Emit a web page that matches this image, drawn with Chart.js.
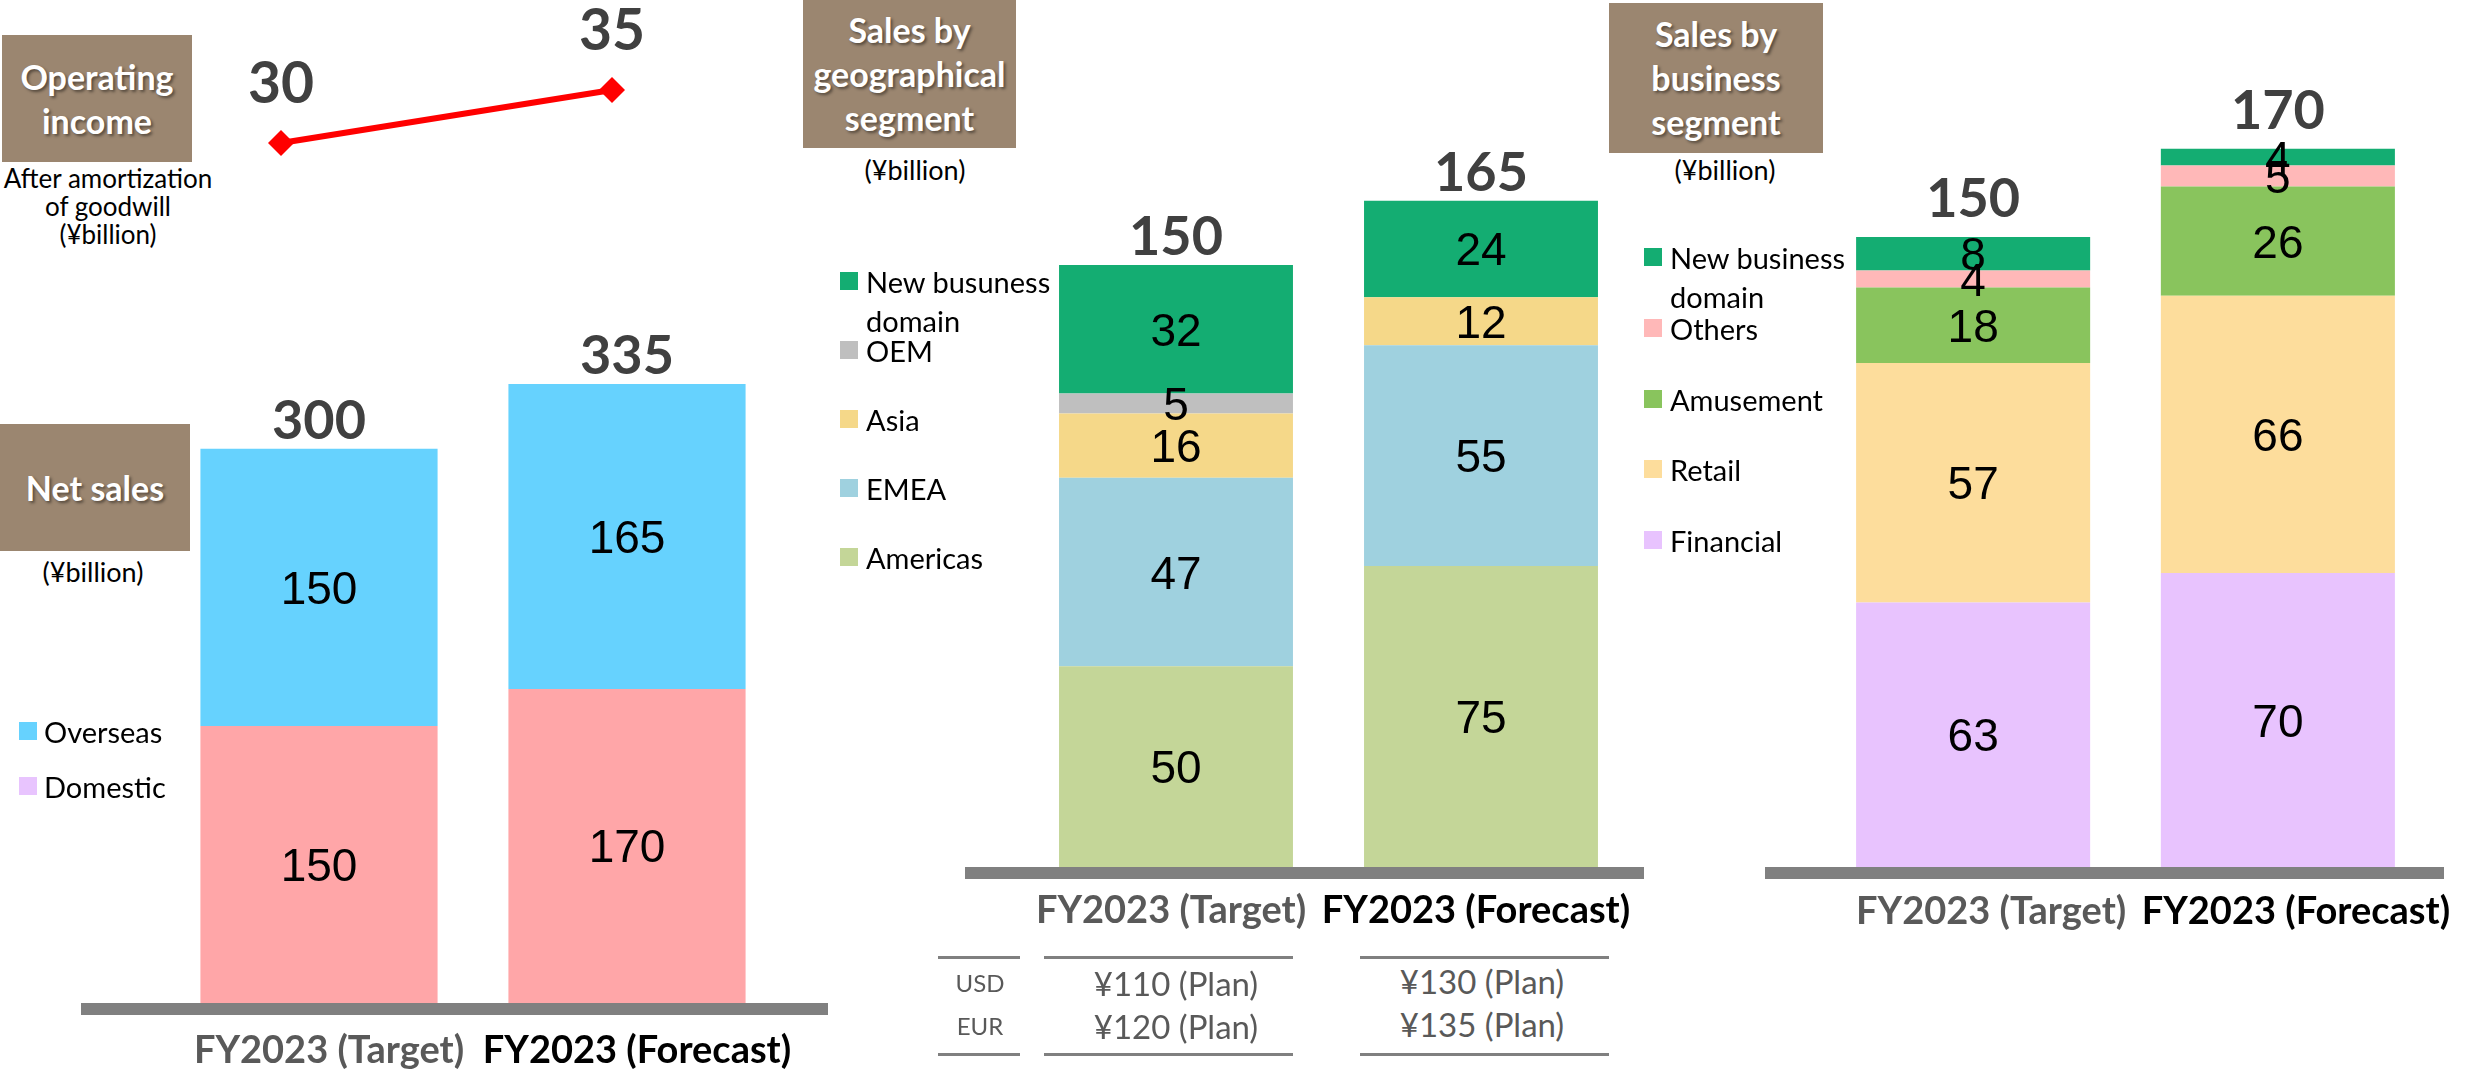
<!DOCTYPE html>
<html>
<head>
<meta charset="utf-8">
<title>FY2023 outlook</title>
<script src="https://cdn.jsdelivr.net/npm/chart.js@4.4.1/dist/chart.umd.min.js"></script>
<style>
  html, body { margin: 0; padding: 0; background: #fff; }
  #page { position: relative; width: 2481px; height: 1071px; overflow: hidden; font-family: Lato, "Open Sans", sans-serif; }
  .box { position: absolute; background: #9B8670; color: #fff; font-weight: 700; font-size: 34px; line-height: 44px;
         display: flex; align-items: center; justify-content: center; text-align: center;
         text-shadow: 2px 2px 3px rgba(0,0,0,0.45); }
  .note { position: absolute; color: #000; text-align: center; font-size: 26px; line-height: 28px; }
  .unit { font-size: 27px; }
  canvas.cv { position: absolute; }
  .li { position: absolute; display: flex; align-items: flex-start; font-size: 29px; color: #000; }
  .sw { width: 18px; height: 18px; flex: none; }
  .fxline { position: absolute; height: 3px; background: #808080; }
  .fx { position: absolute; color: #595959; text-align: center; white-space: nowrap; }
</style>
</head>
<body>
<div id="page">
  <div class="box" style="left:2px;top:35px;width:190px;height:127px;">Operating<br>income</div>
  <div class="note" style="left:-4px;top:164px;width:224px;">After amortization<br>of goodwill<br>(¥billion)</div>

  <div class="box" style="left:0px;top:424px;width:190px;height:127px;">Net sales</div>
  <div class="note unit" style="left:13px;top:558px;width:160px;">(¥billion)</div>

  <div class="box" style="left:803px;top:0px;width:213px;height:148px;">Sales by<br>geographical<br>segment</div>
  <div class="note unit" style="left:835px;top:156px;width:160px;">(¥billion)</div>

  <div class="box" style="left:1609px;top:3px;width:214px;height:150px;">Sales by<br>business<br>segment</div>
  <div class="note unit" style="left:1645px;top:156px;width:160px;">(¥billion)</div>

  <canvas class="cv" id="opChart" width="600" height="300" style="left:150px;top:0px;"></canvas>
  <canvas class="cv" id="netChart" width="850" height="871" style="left:0px;top:200px;"></canvas>
  <canvas class="cv" id="geoChart" width="800" height="850" style="left:900px;top:100px;"></canvas>
  <canvas class="cv" id="bizChart" width="781" height="900" style="left:1700px;top:50px;"></canvas>

  <div id="legends"></div>
  <div id="fxTable"></div>
</div>

<script>
// ---- data (¥billion) ----
const categories = ['FY2023 (Target)', 'FY2023 (Forecast)'];

const operatingIncome = [30, 35];

const netDomestic = [150, 170];
const netOverseas = [150, 165];
const netTotals = [300, 335];

const geoAmericas = [50, 75];
const geoEMEA = [47, 55];
const geoAsia = [16, 12];
const geoOEM = [5, 0];
const geoNewDomain = [32, 24];
const geoTotals = [150, 165];

const bizFinancial = [63, 70];
const bizRetail = [57, 66];
const bizAmusement = [18, 26];
const bizOthers = [4, 5];
const bizNewDomain = [8, 4];
const bizTotals = [150, 170];

const fxCurrencies = ['USD', 'EUR'];
const fxTargetRates = ['¥110 (Plan)', '¥120 (Plan)'];
const fxForecastRates = ['¥130 (Plan)', '¥135 (Plan)'];

// ---- colours ----
const C = {
  overseas: '#66D2FE', domestic: '#FFA6A8', domesticKey: '#E8C4FE',
  newDomain: '#14AD72', oem: '#BFBFBF', asia: '#F5D889', emea: '#9FD1DF', americas: '#C4D698',
  others: '#FFB8B8', amusement: '#89C45D', retail: '#FDDD9C', financial: '#E8C3FE',
  total: '#404040', axis: '#808080'
};

// value labels inside each segment + total above each stack
function stackLabels(totals, gap) {
  return {
    id: 'stackLabels',
    afterDatasetsDraw(chart) {
      const ctx = chart.ctx;
      ctx.save();
      ctx.textAlign = 'center';
      ctx.textBaseline = 'alphabetic';
      ctx.font = '46px "Liberation Sans", Arial, sans-serif';
      ctx.fillStyle = '#000';
      const tops = [];
      chart.data.datasets.forEach((ds, i) => {
        chart.getDatasetMeta(i).data.forEach((bar, j) => {
          const v = ds.data[j];
          if (!v) return;
          const p = bar.getProps(['x', 'y', 'base'], true);
          tops[j] = Math.min(tops[j] === undefined ? Infinity : tops[j], p.y);
          ctx.fillText(String(v), p.x, (p.y + p.base) / 2 + 16.5);
        });
      });
      ctx.font = 'bold 54px Lato, sans-serif';
      ctx.fillStyle = C.total;
      totals.forEach((t, j) => {
        const x = chart.getDatasetMeta(0).data[j].x;
        ctx.fillText(String(t), x, tops[j] - gap);
      });
      ctx.restore();
    }
  };
}

// thick grey category axis under the bars
function baseline(extLeft, extRight) {
  return {
    id: 'baseline',
    afterDraw(chart) {
      const a = chart.chartArea, ctx = chart.ctx;
      ctx.save();
      ctx.fillStyle = C.axis;
      ctx.fillRect(a.left - extLeft, a.bottom, a.right - a.left + extLeft + extRight, 12);
      ctx.restore();
    }
  };
}

function stackedBars(id, datasets, totals, cfg) {
  datasets.forEach(d => { d.categoryPercentage = 1; d.barPercentage = cfg.barPct; d.borderWidth = 0; });
  return new Chart(document.getElementById(id), {
    type: 'bar',
    data: { labels: categories, datasets },
    options: {
      responsive: false, animation: false, devicePixelRatio: 1,
      layout: { padding: { left: cfg.padL, right: cfg.padR, top: cfg.padT, bottom: 0 } },
      plugins: { legend: { display: false }, tooltip: { enabled: false } },
      scales: {
        x: {
          stacked: true,
          grid: { display: false, drawTicks: false },
          border: { display: false },
          ticks: {
            font: { family: 'Lato', weight: 'bold', size: 38 },
            color: c => (c.index === 0 ? '#595959' : '#000000'),
            padding: cfg.tickPad, labelOffset: cfg.labelShift, maxRotation: 0, autoSkip: false
          },
          afterFit: s => { s.height = cfg.axisH; }
        },
        y: { stacked: true, display: false, min: 0, max: cfg.max }
      }
    },
    plugins: [stackLabels(totals, cfg.gap), baseline(cfg.extL, cfg.extR)]
  });
}

// ---- operating income line ----
new Chart(document.getElementById('opChart'), {
  type: 'line',
  data: {
    labels: categories,
    datasets: [{
      data: operatingIncome, borderColor: '#FF0000', borderWidth: 6, tension: 0,
      pointStyle: 'rectRot', pointRadius: 13, pointBackgroundColor: '#FF0000',
      pointBorderColor: '#FF0000', pointBorderWidth: 0, clip: false
    }]
  },
  options: {
    responsive: false, animation: false, devicePixelRatio: 1,
    layout: { padding: { left: 131, right: 138, top: 37, bottom: 51 } },
    plugins: { legend: { display: false }, tooltip: { enabled: false } },
    scales: { x: { display: false }, y: { display: false, min: 20, max: 40 } }
  },
  plugins: [{
    id: 'pointLabels',
    afterDatasetsDraw(chart) {
      const ctx = chart.ctx;
      ctx.save();
      ctx.font = 'bold 57px Lato, sans-serif';
      ctx.fillStyle = C.total;
      ctx.textAlign = 'center';
      ctx.textBaseline = 'alphabetic';
      chart.getDatasetMeta(0).data.forEach((pt, j) => {
        ctx.fillText(String(operatingIncome[j]), pt.x, pt.y - 40);
      });
      ctx.restore();
    }
  }]
});

// ---- net sales ----
stackedBars('netChart', [
  { label: 'Domestic', data: netDomestic, backgroundColor: C.domestic },
  { label: 'Overseas', data: netOverseas, backgroundColor: C.overseas }
], netTotals, { padL: 165, padR: 69, padT: 64, max: 400, axisH: 68, tickPad: 25, labelShift: 10, barPct: 0.77, gap: 10, extL: 84, extR: 47 });

// ---- geographical segment ----
stackedBars('geoChart', [
  { label: 'Americas', data: geoAmericas, backgroundColor: C.americas },
  { label: 'EMEA', data: geoEMEA, backgroundColor: C.emea },
  { label: 'Asia', data: geoAsia, backgroundColor: C.asia },
  { label: 'OEM', data: geoOEM, backgroundColor: C.oem },
  { label: 'New busuness domain', data: geoNewDomain, backgroundColor: C.newDomain }
], geoTotals, { padL: 123.5, padR: 66.5, padT: 44.66, max: 180, axisH: 83, tickPad: 21, labelShift: -5, barPct: 0.767, gap: 10, extL: 58.5, extR: 10.5 });

// ---- business segment ----
stackedBars('bizChart', [
  { label: 'Financial', data: bizFinancial, backgroundColor: C.financial },
  { label: 'Retail', data: bizRetail, backgroundColor: C.retail },
  { label: 'Amusement', data: bizAmusement, backgroundColor: C.amusement },
  { label: 'Others', data: bizOthers, backgroundColor: C.others },
  { label: 'New business domain', data: bizNewDomain, backgroundColor: C.newDomain }
], bizTotals, { padL: 120.75, padR: 50.75, padT: 61, max: 180, axisH: 83, tickPad: 22, labelShift: 18, barPct: 0.768, gap: 20, extL: 55.75, extR: 13.75 });

// ---- legends (top to bottom, same order as the stacks) ----
function legend(x, textX, textW, items) {
  const host = document.getElementById('legends');
  items.forEach(it => {
    const lh = 39;
    const d = document.createElement('div');
    d.className = 'li';
    d.style.left = x + 'px';
    d.style.top = (it.cy - lh / 2) + 'px';
    d.style.lineHeight = lh + 'px';
    const sw = document.createElement('div');
    sw.className = 'sw';
    sw.style.background = it.color;
    sw.style.marginTop = ((lh - 18) / 2) + 'px';
    const tx = document.createElement('div');
    tx.textContent = it.label;
    tx.style.marginLeft = (textX - x - 18) + 'px';
    tx.style.width = textW + 'px';
    d.appendChild(sw); d.appendChild(tx);
    host.appendChild(d);
  });
}
legend(19, 44, 200, [
  { label: 'Overseas', color: C.overseas, cy: 731 },
  { label: 'Domestic', color: C.domesticKey, cy: 786 }
]);
legend(840, 866, 205, [
  { label: 'New busuness domain', color: C.newDomain, cy: 281 },
  { label: 'OEM', color: C.oem, cy: 350 },
  { label: 'Asia', color: C.asia, cy: 419 },
  { label: 'EMEA', color: C.emea, cy: 488 },
  { label: 'Americas', color: C.americas, cy: 557 }
]);
legend(1644, 1670, 200, [
  { label: 'New business domain', color: C.newDomain, cy: 257 },
  { label: 'Others', color: C.others, cy: 328 },
  { label: 'Amusement', color: C.amusement, cy: 399 },
  { label: 'Retail', color: C.retail, cy: 469 },
  { label: 'Financial', color: C.financial, cy: 540 }
]);

// ---- exchange-rate assumptions ----
(function () {
  const host = document.getElementById('fxTable');
  const cols = [[938, 1020], [1044, 1293], [1360, 1609]];
  [956, 1053].forEach(y => cols.forEach(([a, b]) => {
    const l = document.createElement('div');
    l.className = 'fxline';
    l.style.left = a + 'px'; l.style.width = (b - a) + 'px'; l.style.top = y + 'px';
    host.appendChild(l);
  }));
  const rowY = [983, 1026];
  const put = (txt, cx, cy, size) => {
    const t = document.createElement('div');
    t.className = 'fx';
    t.textContent = txt;
    t.style.fontSize = size + 'px';
    t.style.lineHeight = '40px';
    t.style.left = (cx - 150) + 'px';
    t.style.width = '300px';
    t.style.top = (cy - 20) + 'px';
    host.appendChild(t);
  };
  fxCurrencies.forEach((c, i) => put(c, 980, rowY[i], 24));
  fxTargetRates.forEach((c, i) => put(c, 1176, rowY[i], 33));
  fxForecastRates.forEach((c, i) => put(c, 1482, rowY[i] - 2, 33));
})();
</script>
</body>
</html>
